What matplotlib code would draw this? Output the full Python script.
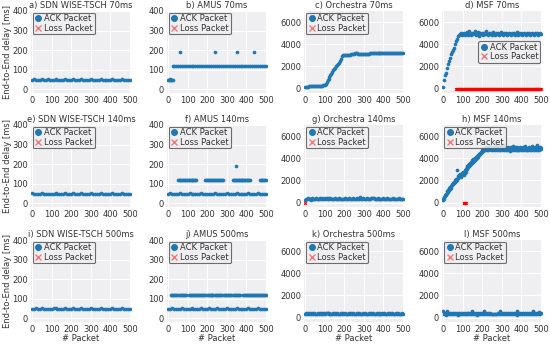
import matplotlib
matplotlib.use("Agg")
import matplotlib.pyplot as plt
from matplotlib.lines import Line2D

# ---------------- data ----------------
titles = ["a) SDN WISE-TSCH 70ms", "b) AMUS 70ms", "c) Orchestra 70ms", "d) MSF 70ms",
          "e) SDN WISE-TSCH 140ms", "f) AMUS 140ms", "g) Orchestra 140ms", "h) MSF 140ms",
          "i) SDN WISE-TSCH 500ms", "j) AMUS 500ms", "k) Orchestra 500ms", "l) MSF 500ms"]

pkt10 = list(range(0, 501, 10))
pkt5 = list(range(0, 501, 5))

sdn70 = [50, 51, 50, 49, 50, 51, 50, 50, 52, 50, 49, 50, 51, 50, 50, 49, 50, 51, 50, 50,
         50, 51, 49, 50, 50, 51, 50, 49, 50, 50, 51, 50, 50, 49, 50, 51, 50, 50, 49, 50,
         50, 51, 50, 50, 49, 50, 51, 50, 50, 49, 50]
sdn140 = [51, 50, 50, 49, 50, 51, 50, 50, 49, 50, 50, 50, 51, 50, 50, 49, 50, 51, 50, 50,
          50, 51, 49, 50, 50, 51, 50, 49, 50, 50, 51, 50, 50, 49, 50, 51, 50, 50, 49, 50,
          50, 51, 50, 50, 49, 50, 51, 50, 50, 49, 50]
sdn500 = [50, 50, 51, 49, 50, 51, 50, 50, 49, 50, 50, 51, 51, 50, 50, 49, 50, 51, 50, 50,
          50, 51, 49, 50, 50, 51, 50, 49, 50, 50, 51, 50, 50, 49, 50, 51, 50, 50, 49, 50,
          50, 51, 50, 50, 49, 50, 51, 50, 50, 49, 50]

# AMUS 70ms
amus70_low_pkt = [0, 4, 8, 12, 16, 20, 24]
amus70_low = [50, 50, 50, 51, 50, 50, 50]
amus70_high_pkt = [26, 30, 40, 50, 60, 70, 80, 90, 100, 110, 120, 130, 140, 150, 160, 170, 180, 190,
                   200, 210, 220, 230, 240, 250, 260, 270, 280, 290, 300, 310, 320, 330, 340, 350,
                   360, 370, 380, 390, 400, 410, 420, 430, 440, 450, 460, 470, 480, 490, 500]
amus70_high = [120, 120, 121, 120, 120, 119, 120, 120, 121, 120, 120, 120, 119, 120, 121, 120, 120,
               120, 120, 121, 120, 120, 120, 119, 120, 120, 121, 120, 120, 120, 119, 120, 121, 120,
               120, 120, 120, 121, 120, 120, 120, 119, 120, 120, 121, 120, 120, 120, 120]
amus70_out_pkt = [60, 240, 350, 440]
amus70_out = [190, 190, 190, 190]

# AMUS 140ms
amus140_low = [50, 51, 50, 49, 50, 50, 51, 50, 50, 49, 50, 51, 50, 50, 50, 49, 50, 51, 50, 50,
               50, 50, 49, 50, 51, 50, 50, 49, 50, 50, 51, 50, 50, 49, 50, 51, 50, 50, 49, 50,
               50, 51, 50, 50, 49, 50, 51, 50, 50, 49, 50]
amus140_high_pkt = [50, 55, 60, 65, 70, 75, 80, 85, 90, 95, 100, 105, 110, 115, 120, 125, 130, 135, 140, 145,
                    190, 195, 200, 205, 210, 215, 220, 225, 230, 235, 240, 245, 250, 255, 260, 265, 270, 275, 280,
                    330, 335, 340, 345, 350, 355, 360, 365, 370, 375, 380, 385, 390, 395, 400, 405, 410, 415, 420,
                    470, 475, 480, 485, 490, 495, 500]
amus140_high = [120] * 20 + [121] * 19 + [120] * 19 + [120] * 7
amus140_out_pkt = [345]
amus140_out = [190]

# AMUS 500ms
amus500_low = [50, 50, 51, 50, 49, 50, 50, 51, 50, 50, 49, 50, 51, 50, 50, 49, 50, 51, 50, 50,
               50, 51, 49, 50, 50, 51, 50, 49, 50, 50, 51, 50, 50, 49, 50, 51, 50, 50, 49, 50,
               50, 51, 50, 50, 49, 50, 51, 50, 50, 49, 50]
amus500_high_pkt = [17, 22, 27, 32, 37, 42, 47, 55, 60, 65, 70, 75, 80, 85, 90,
                    108, 113, 118, 123, 128, 133, 138, 143, 147, 155, 160, 165, 170, 175, 180, 185, 188,
                    197, 202, 207, 212, 217, 222, 227, 230, 242, 247, 252, 257, 262, 267, 272, 275,
                    285, 290, 295, 300, 305, 310, 315, 320, 330, 335, 340, 345, 350, 355, 360, 365,
                    383, 388, 393, 398, 403, 408, 413, 418, 422, 427, 432, 437, 442, 447, 452, 457, 463,
                    468, 473, 478, 483, 488, 493, 498]
amus500_high = [120] * len(amus500_high_pkt)

# Orchestra 70ms (every 5 packets)
orch70 = [150, 110, 120, 180, 200, 250, 260, 255, 260, 270, 270, 265, 260, 270, 265, 260, 270, 275, 280, 290,
          350, 450, 600, 750, 900, 1050, 1200, 1350, 1500, 1650, 1750, 1900, 2000, 2100, 2200, 2350, 2500, 2700, 2900, 3050,
          3050, 3050, 3050, 3000, 3000, 3050, 3050, 3100, 3100, 3150, 3150, 3200, 3200, 3200, 3150, 3100, 3100, 3100, 3100, 3100,
          3100, 3100, 3100, 3100, 3100, 3100, 3200, 3200, 3200, 3200, 3200, 3200, 3200, 3200, 3200, 3200, 3200, 3200, 3200, 3200,
          3200, 3200, 3200, 3200, 3200, 3200, 3200, 3200, 3200, 3200, 3200, 3200, 3200, 3200, 3200, 3200, 3200, 3200, 3200, 3200,
          3200]

# MSF 70ms (every 5 packets)
msf70 = [100, 800, 1200, 1400, 1900, 2200, 2500, 2800, 3100, 3300, 3500, 3700, 4000, 4300, 4500, 4700, 4800, 4900, 5000, 4850,
         4950, 5050, 4800, 5000, 4900, 5100, 4850, 5200, 4950, 4800, 5050, 4900, 5000, 5150, 4850, 4950, 5100, 4750, 5000, 4900,
         5050, 4850, 5000, 4900, 5200, 4950, 4800, 5050, 4900, 5000, 4850, 5100, 4950, 4800, 5000, 4900, 5050, 4850, 4950, 5100,
         4900, 4800, 5000, 4950, 5050, 4850, 4900, 5000, 4950, 4800, 5050, 4900, 5000, 4850, 4950, 5100, 4900, 4800, 5000, 4950,
         5050, 4850, 4900, 5000, 4950, 4800, 5050, 4900, 5000, 4850, 4950, 5000, 4900, 4800, 5000, 4950, 5050, 4850, 4900, 5000,
         4950]
msf70_loss_pkt = list(range(68, 501, 3))
msf70_loss = [0] * len(msf70_loss_pkt)

# Orchestra 140ms (every 5 packets)
orch140 = [260, 350, 280, 370, 300, 360, 270, 380, 290, 350, 300, 380, 280, 360, 310, 370, 290, 380, 300, 360,
           450, 350, 430, 320, 400, 300, 380, 280, 360, 300, 350, 420, 300, 360, 280, 370, 300, 350, 290, 360,
           300, 380, 280, 350, 300, 370, 290, 360, 300, 380, 300, 350, 280, 370, 300, 360, 500, 350, 300, 370,
           290, 360, 300, 380, 280, 350, 300, 370, 450, 420, 380, 300, 360, 290, 370, 300, 350, 280, 360, 300,
           380, 290, 350, 300, 370, 280, 360, 300, 350, 290, 380, 300, 360, 280, 350, 300, 370, 290, 360, 300,
           350]
orch140_loss_pkt = [0]
orch140_loss = [0]

# MSF 140ms (every 5 packets)
msf140 = [300, 500, 700, 800, 1000, 1100, 1300, 1400, 1500, 1700, 1800, 1900, 2000, 2100, 2900, 2400, 2500, 2600, 2500, 2700,
          2800, 2700, 2900, 3000, 3200, 3300, 3400, 3500, 3600, 3700, 3800, 3900, 3900, 4000, 4100, 4200, 4300, 4400, 4500, 4600,
          4700, 4800, 4800, 4900, 5000, 4900, 4800, 5000, 5100, 4850, 4950, 4800, 5050, 4900, 5200, 4850, 5000, 4950, 4800, 5100,
          4900, 5200, 4850, 5000, 4950, 4800, 5050, 4900, 4750, 5000, 4950, 5100, 4850, 5000, 4900, 4800, 5050, 4950, 4850, 5000,
          4900, 4800, 5000, 4950, 5100, 4850, 4900, 4800, 5000, 4950, 4850, 5100, 4900, 4800, 5000, 4950, 5200, 4850, 4900, 5050,
          4950]
msf140_low = [200, 350, 550, 700, 850, 950, 1150, 1250, 1350, 1550, 1650, 1750, 1850, 1950, 2050, 2200, 2300, 2400, 2300, 2500,
              2600, 2500, 2650, 2800, 3000, 3100, 3200, 3300, 3400, 3500, 3600, 3700, 3750, 3850, 3950, 4050, 4150, 4250, 4350, 4450,
              4550, 4650, 4700, 4750, 4800, 4750, 4700, 4800, 4900, 4700, 4800, 4700, 4850, 4750, 5000, 4700, 4800, 4750, 4700, 4900,
              4750, 5000, 4700, 4800, 4750, 4700, 4850, 4750, 4650, 4800, 4750, 4900, 4700, 4800, 4750, 4700, 4850, 4750, 4700, 4800,
              4750, 4700, 4800, 4750, 4900, 4700, 4750, 4700, 4800, 4750, 4700, 4900, 4750, 4700, 4800, 4750, 5000, 4700, 4750, 4850,
              4800]
msf140_loss_pkt = [105, 108, 111, 114, 117]
msf140_loss = [0, 0, 0, 0, 0]

# Orchestra 500ms (every 5 packets)
orch500 = [280, 380, 300, 400, 290, 370, 310, 420, 300, 380, 290, 360, 300, 380, 310, 370, 290, 400, 300, 370,
           280, 380, 450, 370, 300, 380, 290, 360, 300, 400, 280, 370, 300, 380, 290, 360, 310, 380, 300, 370,
           290, 380, 300, 360, 280, 370, 300, 400, 290, 380, 300, 360, 280, 370, 300, 380, 290, 360, 300, 370,
           300, 380, 290, 360, 300, 420, 280, 370, 300, 380, 290, 360, 300, 370, 280, 380, 300, 360, 290, 370,
           300, 380, 280, 360, 300, 400, 290, 370, 300, 380, 280, 360, 300, 370, 290, 380, 300, 360, 280, 370,
           300]

# MSF 500ms (every 5 packets)
msf500 = [550, 300, 450, 250, 600, 350, 400, 300, 450, 280, 380, 320, 450, 300, 400, 260, 380, 300, 420, 300,
          380, 280, 450, 300, 400, 320, 380, 280, 450, 300, 600, 350, 420, 300, 380, 260, 400, 300, 450, 280,
          380, 300, 600, 320, 400, 300, 450, 280, 380, 300, 350, 280, 320, 300, 350, 280, 380, 300, 550, 320,
          420, 300, 380, 280, 450, 300, 400, 320, 380, 280, 450, 300, 420, 300, 380, 260, 550, 300, 450, 280,
          380, 300, 420, 320, 400, 300, 450, 280, 380, 300, 420, 300, 550, 320, 400, 300, 450, 280, 500, 300,
          400]

ack_series = [
    [(pkt10, sdn70)],
    [(amus70_low_pkt, amus70_low), (amus70_high_pkt, amus70_high), (amus70_out_pkt, amus70_out)],
    [(pkt5, orch70)],
    [(pkt5, msf70)],
    [(pkt10, sdn140)],
    [(pkt10, amus140_low), (amus140_high_pkt, amus140_high), (amus140_out_pkt, amus140_out)],
    [(pkt5, orch140)],
    [(pkt5, msf140), (pkt5, msf140_low)],
    [(pkt10, sdn500)],
    [(pkt10, amus500_low), (amus500_high_pkt, amus500_high)],
    [(pkt5, orch500)],
    [(pkt5, msf500)],
]
loss_series = [None, None, None, (msf70_loss_pkt, msf70_loss),
               None, None, (orch140_loss_pkt, orch140_loss), (msf140_loss_pkt, msf140_loss),
               None, None, None, None]

# ---------------- plot ----------------
FS = 6
plt.rcParams.update({
    "font.family": "DejaVu Sans",
    "font.size": FS,
    "axes.facecolor": "#efeff1",
    "axes.edgecolor": "none",
    "grid.color": "white",
    "grid.linewidth": 0.8,
    "xtick.color": "#333333",
    "ytick.color": "#333333",
    "axes.labelcolor": "#333333",
    "text.color": "#333333",
})

fig = plt.figure(figsize=(5.5, 3.45), dpi=100)
W, H = 550.0, 345.0
col_left = [31, 167, 304, 442]
row_top = [11, 125, 240]
aw, ah = 100, 82

ACK_C = "#1f77b4"
for i in range(12):
    r, c = divmod(i, 4)
    ax = fig.add_axes([col_left[c] / W, 1 - (row_top[r] + ah) / H, aw / W, ah / H])
    ax.set_axisbelow(True)
    ax.grid(True)
    for sp in ax.spines.values():
        sp.set_visible(False)
    ax.tick_params(length=0, pad=2, labelsize=FS)
    for xs, ys in ack_series[i]:
        ax.scatter(xs, ys, s=7, color=ACK_C, linewidths=0, zorder=3)
    if loss_series[i] is not None:
        xs, ys = loss_series[i]
        ax.scatter(xs, ys, s=4, marker="x", color="red", linewidths=0.8, zorder=3)
    ax.set_xlim(-5, 505)
    ax.set_xticks([0, 100, 200, 300, 400, 500])
    if c < 2:
        ax.set_ylim(-18, 400)
        ax.set_yticks([0, 100, 200, 300, 400])
    else:
        ax.set_ylim(-400, 7000)
        ax.set_yticks([0, 2000, 4000, 6000])
    ax.set_title(titles[i], fontsize=FS, pad=2)
    if c == 0:
        ax.set_ylabel("End-to-End delay [ms]", fontsize=FS)
        ax.yaxis.set_label_coords(-0.185, 0.5)
    if r == 2:
        ax.set_xlabel("# Packet", fontsize=FS, labelpad=0)
    handles = [Line2D([], [], marker="o", color=ACK_C, linestyle="none", markersize=4),
               Line2D([], [], marker="x", color="red", alpha=0.5, linestyle="none", markersize=5)]
    loc = "center right" if i == 3 else "upper left"
    leg = ax.legend(handles, ["ACK Packet", "Loss Packet"], loc=loc, fontsize=FS,
                    borderaxespad=0.2, borderpad=0.2, labelspacing=0.05, handletextpad=0.2,
                    handlelength=1.0, framealpha=0.85, fancybox=True)
    leg.get_frame().set_edgecolor("#555555")
    leg.get_frame().set_linewidth(0.8)
    leg.set_zorder(5)

fig.savefig("out.png", dpi=100)
